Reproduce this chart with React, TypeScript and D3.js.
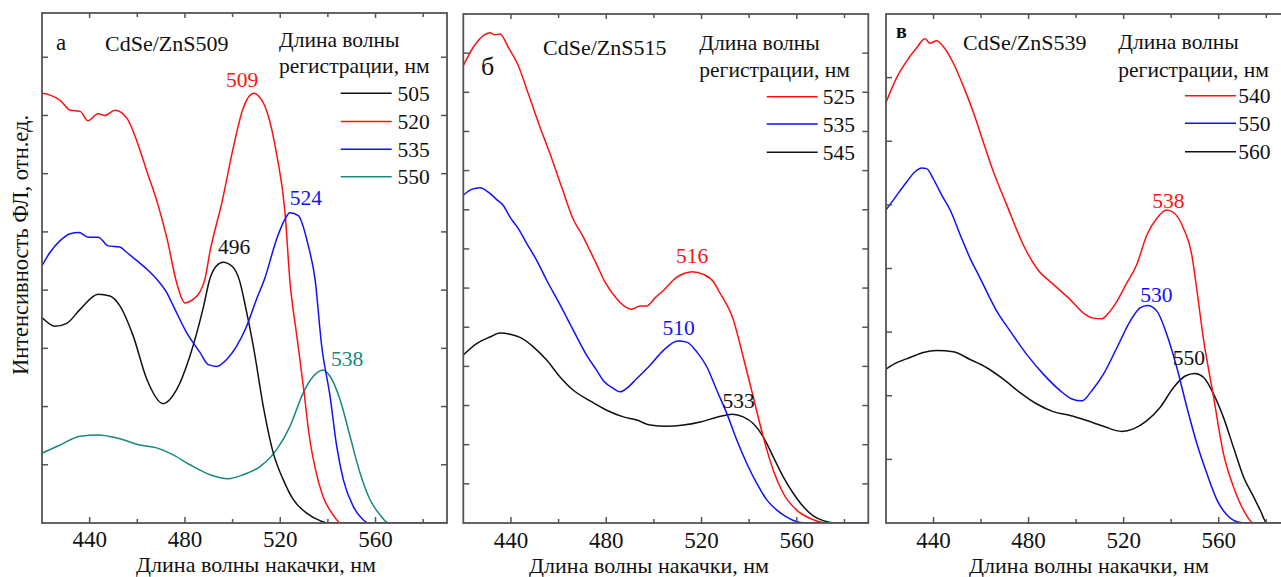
import React from "react";
import * as d3 from "d3";

type Pt = [number, number];

// Excitation wavelength axis (nm)
const WAVELENGTH_RANGE: [number, number] = [420, 590];
const X_MAJOR_TICKS = [440, 480, 520, 560];
const X_MINOR_TICKS = [460, 500, 540, 580];

const X_TITLE = "Длина волны накачки, нм";
const Y_TITLE = "Интенсивность ФЛ, отн.ед.";
const LEGEND_TITLE = ["Длина волны", "регистрации, нм"];

// Panel а — CdSe/ZnS509, excitation spectra at several registration wavelengths
const a505: Pt[] = [
  [420, 3.53], [425.5, 3.38], [430.4, 3.43], [436, 3.67], [443.6, 3.93], [448.5, 3.9],
  [452.7, 3.73], [458.3, 3.21], [464, 2.47], [470.9, 2.05], [476.5, 2.29], [482.1, 2.87],
  [487.7, 3.7], [490.5, 4.2], [493.3, 4.42], [496, 4.48], [500, 4.4], [503, 4.15],
  [505.5, 3.7], [508.7, 3.04], [512.9, 2.0], [517.1, 1.2], [521.3, 0.74], [525.5, 0.4],
  [531.1, 0.17], [536.7, 0.04], [540, 0], [590, 0],
];
const a520: Pt[] = [
  [420, 7.38], [423.4, 7.35], [427.6, 7.26], [431.8, 7.09], [436, 7.07], [439.3, 6.91],
  [443.5, 7.03], [446.4, 7.0], [450.6, 7.09], [455.7, 6.95], [459.9, 6.55], [464.1, 6.03],
  [468.3, 5.52], [472.5, 4.88], [476.7, 4.1], [480, 3.78], [483.4, 3.84], [486.3, 3.97],
  [488.4, 4.19], [490.5, 4.66], [495.6, 5.52], [500.2, 6.43], [504.4, 7.12], [509, 7.38],
  [511, 7.33], [514.4, 7.07], [518.6, 6.31], [522, 5.34], [524, 4.19], [527, 3.2],
  [530, 2.25], [532, 1.55], [534.6, 0.95], [538, 0.45], [542, 0.15], [545.5, 0], [590, 0],
];
const a535: Pt[] = [
  [420, 4.42], [423.4, 4.65], [427.6, 4.85], [431.8, 4.97], [435.5, 4.99], [439.4, 4.91],
  [443.6, 4.91], [447.8, 4.76], [452.7, 4.74], [455.5, 4.65], [459.7, 4.51], [464, 4.36],
  [468.1, 4.19], [472.3, 3.96], [475.1, 3.73], [480.7, 3.27], [486.3, 2.93], [489.8, 2.72],
  [493.3, 2.69], [497.5, 2.81], [501.7, 3.04], [505.9, 3.38], [510, 3.84], [513.5, 4.2],
  [518.5, 4.88], [522, 5.22], [524, 5.33], [527.6, 5.28], [531.8, 4.76], [534.6, 4.19],
  [537.4, 3.04], [540.9, 2.18], [543.7, 1.32], [546.5, 0.74], [550.7, 0.28], [554.2, 0.08],
  [557, 0], [590, 0],
];
const a550: Pt[] = [
  [420, 1.2], [427.6, 1.34], [436, 1.49], [443.6, 1.51], [451.4, 1.46], [461.1, 1.34],
  [468.1, 1.29], [475.1, 1.17], [482.1, 1.0], [490.5, 0.83], [498.2, 0.76], [504.5, 0.83],
  [511.5, 0.97], [518.5, 1.26], [524.1, 1.66], [529.7, 2.24], [533.9, 2.52], [538, 2.63],
  [540.9, 2.52], [545.1, 2.12], [549.3, 1.49], [553.5, 0.86], [557.7, 0.4], [561.9, 0.14],
  [565.4, 0], [590, 0],
];

// Panel б — CdSe/ZnS515
const b525: Pt[] = [
  [420, 11.68], [424.2, 12.15], [428.4, 12.45], [431.2, 12.52], [433.3, 12.47], [435.4, 12.49],
  [438.9, 12.15], [443.1, 11.68], [447.3, 10.96], [452.2, 10.11], [456.4, 9.43], [461.3, 8.58],
  [466.2, 7.75], [470.4, 7.3], [473.2, 6.95], [476, 6.6], [479.5, 6.15], [484.4, 5.73],
  [487.2, 5.56], [490.7, 5.46], [494.2, 5.54], [497, 5.54], [500.5, 5.75], [504, 5.94],
  [509.6, 6.28], [513, 6.38], [516, 6.42], [520.8, 6.35], [525, 6.16], [527.5, 5.9],
  [533.4, 5.18], [537.5, 4.24], [541.7, 3.22], [545.9, 2.2], [550.1, 1.35], [554.3, 0.76],
  [559.9, 0.33], [565.5, 0.12], [571.1, 0.01], [575.3, 0], [590, 0],
];
const b535: Pt[] = [
  [420, 8.37], [423.5, 8.52], [427, 8.56], [430.5, 8.45], [434, 8.26], [436.8, 8.11],
  [439.6, 7.81], [443.1, 7.52], [446.6, 7.14], [450.8, 6.71], [455, 6.2], [460.2, 5.62],
  [466.2, 4.92], [471.8, 4.28], [476, 3.9], [479, 3.62], [483, 3.44], [485.8, 3.35],
  [488.6, 3.44], [492.8, 3.69], [498.4, 4.03], [504, 4.41], [510, 4.65], [513.8, 4.62],
  [518, 4.37], [522.2, 3.99], [526.4, 3.39], [530.6, 2.8], [534.8, 2.12], [539, 1.52],
  [543.2, 1.01], [547.4, 0.59], [551.6, 0.33], [555.8, 0.15], [560, 0.03], [563, 0], [590, 0],
];
const b545: Pt[] = [
  [420, 4.29], [425.6, 4.58], [431.2, 4.75], [435.4, 4.85], [439.6, 4.82], [443.8, 4.74],
  [449.4, 4.5], [455, 4.16], [460.6, 3.73], [466.2, 3.39], [473.2, 3.12], [480.2, 2.88],
  [487.2, 2.71], [492.8, 2.63], [498.4, 2.5], [505.4, 2.47], [512.4, 2.5], [519.4, 2.58],
  [526.4, 2.7], [533, 2.78], [537.5, 2.71], [541.7, 2.54], [545.9, 2.2], [550.1, 1.69],
  [554.3, 1.18], [558.5, 0.76], [562.7, 0.42], [566.9, 0.18], [571.1, 0.06], [576.8, 0], [590, 0],
];

// Panel в — CdSe/ZnS539
const c540: Pt[] = [
  [420, 6.61], [424.5, 7.0], [428.7, 7.26], [432.9, 7.47], [436.4, 7.61], [438.5, 7.54],
  [441.3, 7.58], [444.1, 7.49], [448.3, 7.23], [452.5, 6.87], [456.8, 6.45], [461, 5.98],
  [465.2, 5.52], [470.8, 5.0], [477.8, 4.37], [483.5, 4.0], [490.4, 3.75], [497, 3.53],
  [503.1, 3.3], [507.3, 3.22], [510.8, 3.21], [514.3, 3.33], [517.1, 3.48], [521, 3.75],
  [525.5, 4.06], [529.8, 4.53], [534, 4.79], [538, 4.92], [541, 4.88], [545.2, 4.63],
  [548.7, 4.21], [550.5, 3.75], [553.6, 2.89], [557.8, 1.99], [562, 1.09], [566.2, 0.57],
  [570.5, 0.2], [574.7, 0], [590, 0],
];
const c550: Pt[] = [
  [420, 4.92], [424.5, 5.15], [428.7, 5.36], [432.2, 5.52], [435, 5.58], [437.1, 5.57],
  [439.9, 5.41], [443.5, 5.15], [447, 4.92], [451.2, 4.53], [455.4, 4.16], [459.6, 3.85],
  [463.5, 3.55], [466.6, 3.33], [472.2, 3.02], [479.2, 2.65], [486.2, 2.34], [493.3, 2.08],
  [498.2, 1.95], [502.4, 1.92], [506.6, 2.08], [511.5, 2.34], [517.1, 2.75], [522.7, 3.17],
  [526.9, 3.38], [530, 3.42], [534, 3.33], [538.2, 2.96], [542.4, 2.44], [546.6, 1.82],
  [550.8, 1.25], [555, 0.78], [559.3, 0.36], [563.5, 0.125], [567.7, 0.02], [571.9, 0], [590, 0],
];
const c560: Pt[] = [
  [420, 2.42], [424.5, 2.52], [430.1, 2.6], [435.7, 2.68], [441.3, 2.71], [448.3, 2.69],
  [455.4, 2.57], [462.4, 2.44], [469.4, 2.26], [476.4, 2.05], [483.5, 1.87], [490.4, 1.75],
  [497.5, 1.69], [504.5, 1.61], [511.5, 1.52], [519.2, 1.44], [524.1, 1.48], [529.8, 1.61],
  [535.4, 1.82], [541, 2.13], [545.9, 2.31], [550, 2.35], [553.6, 2.29], [557.8, 2.03],
  [562, 1.66], [566.2, 1.19], [570.5, 0.72], [574.7, 0.41], [577.5, 0.2], [580.3, 0], [590, 0],
];

const RED = "#ff1010";
const BLUE = "#1010ff";
const BLACK = "#111111";
const TEAL = "#17897c";
const FRAME = "#555555";
const FONT = '"Liberation Serif", "Times New Roman", "DejaVu Serif", serif';

type Series = { reg: string; data: Pt[]; color: string };
type PeakLabel = { nm: number; reg: string; dx: number; dy: number };

type Panel = {
  letter: string;
  letterX: number; letterY: number; letterSize: number; letterWeight: number;
  sample: string; sampleX: number; sampleY: number;
  left: number; right: number; top: number; bottom: number;
  yMax: number; yTicks: number[];
  tickLabelY: number; titleX: number; titleY: number;
  series: Series[]; drawOrder: string[];
  legendX: number; legendTitleY: [number, number];
  legendLine: [number, number]; legendTextX: number; legendRows: number[];
  peaks: PeakLabel[];
};

const panels: Panel[] = [
  {
    letter: "а", letterX: 56, letterY: 50, letterSize: 23, letterWeight: 400,
    sample: "CdSe/ZnS509", sampleX: 105, sampleY: 51,
    left: 42, right: 447, top: 13, bottom: 523,
    yMax: 8.76, yTicks: d3.range(1, 9),
    tickLabelY: 547, titleX: 256, titleY: 572,
    series: [
      { reg: "505", data: a505, color: BLACK },
      { reg: "520", data: a520, color: RED },
      { reg: "535", data: a535, color: BLUE },
      { reg: "550", data: a550, color: TEAL },
    ],
    drawOrder: ["550", "505", "520", "535"],
    legendX: 279, legendTitleY: [46.5, 72.5],
    legendLine: [340.7, 391.7], legendTextX: 397.5, legendRows: [93.3, 121.5, 149.3, 176.7],
    peaks: [
      { nm: 509, reg: "520", dx: -12, dy: -6 },
      { nm: 496, reg: "505", dx: 11, dy: -8 },
      { nm: 524, reg: "535", dx: 16, dy: -8 },
      { nm: 538, reg: "550", dx: 24, dy: -4 },
    ],
  },
  {
    letter: "б", letterX: 481, letterY: 75, letterSize: 26, letterWeight: 400,
    sample: "CdSe/ZnS515", sampleX: 543, sampleY: 55,
    left: 463.3, right: 868.3, top: 14, bottom: 523,
    yMax: 13, yTicks: d3.range(1, 13),
    tickLabelY: 548, titleX: 649, titleY: 573,
    series: [
      { reg: "525", data: b525, color: RED },
      { reg: "535", data: b535, color: BLUE },
      { reg: "545", data: b545, color: BLACK },
    ],
    drawOrder: ["545", "525", "535"],
    legendX: 699.3, legendTitleY: [50, 76.5],
    legendLine: [766.7, 817.7], legendTextX: 822.7, legendRows: [96.7, 124, 152.3],
    peaks: [
      { nm: 516, reg: "525", dx: 0, dy: -9 },
      { nm: 510, reg: "535", dx: 1, dy: -6 },
      { nm: 533, reg: "545", dx: 6, dy: -6 },
    ],
  },
  {
    letter: "в", letterX: 896, letterY: 37.5, letterSize: 20, letterWeight: 700,
    sample: "CdSe/ZnS539", sampleX: 963, sampleY: 50,
    left: 886, right: 1290, top: 14, bottom: 523,
    yMax: 8, yTicks: d3.range(1, 8),
    tickLabelY: 548, titleX: 1089, titleY: 573,
    series: [
      { reg: "540", data: c540, color: RED },
      { reg: "550", data: c550, color: BLUE },
      { reg: "560", data: c560, color: BLACK },
    ],
    drawOrder: ["560", "540", "550"],
    legendX: 1118.3, legendTitleY: [49.3, 77.3],
    legendLine: [1185, 1236], legendTextX: 1238.3, legendRows: [95.7, 123.3, 151.7],
    peaks: [
      { nm: 538, reg: "540", dx: 2, dy: -2 },
      { nm: 530, reg: "550", dx: 9, dy: -3 },
      { nm: 550, reg: "560", dx: -6, dy: -8 },
    ],
  },
];

const textStyle = { fontFamily: FONT };

function PanelView({ p }: { p: Panel }) {
  const x = d3.scaleLinear().domain(WAVELENGTH_RANGE).range([p.left, p.right]);
  const y = d3.scaleLinear().domain([0, p.yMax]).range([p.bottom, p.top]);
  const line = d3
    .line<Pt>()
    .x((d) => x(d[0]))
    .y((d) => y(d[1]))
    .curve(d3.curveMonotoneX);
  const byReg = new Map(p.series.map((s) => [s.reg, s]));
  const clipId = `clip-${p.sample.replace(/[^A-Za-z0-9]/g, "")}`;

  return (
    <g>
      <defs>
        <clipPath id={clipId}>
          <rect x={p.left} y={p.top} width={p.right - p.left} height={p.bottom - p.top} />
        </clipPath>
      </defs>

      {/* data curves */}
      <g clipPath={`url(#${clipId})`}>
        {p.drawOrder.map((reg) => {
          const s = byReg.get(reg)!;
          return (
            <path key={reg} d={line(s.data) ?? ""} fill="none" stroke={s.color} strokeWidth={1.5} />
          );
        })}
      </g>

      {/* frame */}
      <rect
        x={p.left}
        y={p.top}
        width={p.right - p.left}
        height={p.bottom - p.top}
        fill="none"
        stroke={FRAME}
        strokeWidth={1.8}
      />

      {/* x ticks, bottom and top, pointing inward */}
      {X_MAJOR_TICKS.map((t) => (
        <g key={`M${t}`} stroke={FRAME} strokeWidth={1.5}>
          <line x1={x(t)} x2={x(t)} y1={p.bottom} y2={p.bottom - 6} />
          <line x1={x(t)} x2={x(t)} y1={p.top} y2={p.top + 5} />
        </g>
      ))}
      {X_MINOR_TICKS.map((t) => (
        <g key={`m${t}`} stroke={FRAME} strokeWidth={1.5}>
          <line x1={x(t)} x2={x(t)} y1={p.bottom} y2={p.bottom - 4} />
          <line x1={x(t)} x2={x(t)} y1={p.top} y2={p.top + 4} />
        </g>
      ))}

      {/* y ticks, both sides, no labels */}
      {p.yTicks.map((t) => (
        <g key={`y${t}`} stroke={FRAME} strokeWidth={1.5}>
          <line x1={p.left} x2={p.left + 6} y1={y(t)} y2={y(t)} />
          <line x1={p.right} x2={p.right - 6} y1={y(t)} y2={y(t)} />
        </g>
      ))}

      {/* tick labels */}
      {X_MAJOR_TICKS.map((t) => (
        <text key={`l${t}`} x={x(t)} y={p.tickLabelY} textAnchor="middle" fontSize={23} fill="#111" style={textStyle}>
          {t}
        </text>
      ))}

      <text x={p.titleX} y={p.titleY} textAnchor="middle" fontSize={22} fill="#111" style={textStyle}>
        {X_TITLE}
      </text>

      {/* panel letter and sample name */}
      <text
        x={p.letterX}
        y={p.letterY}
        fontSize={p.letterSize}
        fontWeight={p.letterWeight}
        fill="#111"
        style={textStyle}
      >
        {p.letter}
      </text>
      <text x={p.sampleX} y={p.sampleY} fontSize={22} fill="#111" style={textStyle}>
        {p.sample}
      </text>

      {/* legend */}
      {LEGEND_TITLE.map((s, i) => (
        <text key={s} x={p.legendX} y={p.legendTitleY[i]} fontSize={21.5} fill="#111" style={textStyle}>
          {s}
        </text>
      ))}
      {p.series.map((s, i) => (
        <g key={`lg${s.reg}`}>
          <line
            x1={p.legendLine[0]}
            x2={p.legendLine[1]}
            y1={p.legendRows[i]}
            y2={p.legendRows[i]}
            stroke={s.color}
            strokeWidth={1.5}
          />
          <text x={p.legendTextX} y={p.legendRows[i] + 7.5} fontSize={21.5} fill="#111" style={textStyle}>
            {s.reg}
          </text>
        </g>
      ))}

      {/* peak positions */}
      {p.peaks.map((pk) => {
        const s = byReg.get(pk.reg)!;
        const near = s.data.filter((d) => Math.abs(d[0] - pk.nm) <= 6);
        const top = near.reduce((a, b) => (b[1] > a[1] ? b : a), near[0]);
        return (
          <text
            key={`pk${pk.reg}`}
            x={x(pk.nm) + pk.dx}
            y={y(top[1]) + pk.dy}
            textAnchor="middle"
            fontSize={21.5}
            fill={s.color}
            style={textStyle}
          >
            {pk.nm}
          </text>
        );
      })}
    </g>
  );
}

export default function App() {
  return (
    <svg
      width={1281}
      height={577}
      style={{ position: "absolute", left: 0, top: 0, display: "block", background: "#fff", fontFamily: FONT }}
    >
      <rect x={0} y={0} width={1281} height={577} fill="#fff" />
      {panels.map((p) => (
        <PanelView key={p.sample} p={p} />
      ))}
      <text
        transform="translate(28,245) rotate(-90)"
        textAnchor="middle"
        fontSize={22.5}
        fill="#111"
        style={textStyle}
      >
        {Y_TITLE}
      </text>
    </svg>
  );
}
